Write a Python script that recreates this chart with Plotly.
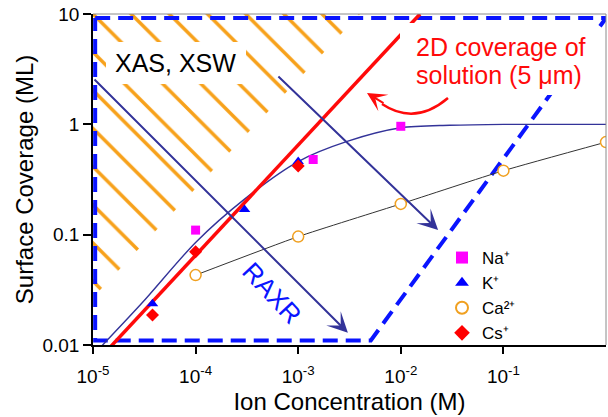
import plotly.graph_objects as go
import math

# ---------------- data ----------------
na_x = [1e-4, 1.4e-3, 1e-2]
na_y = [0.11, 0.48, 0.96]
k_x = [3.8e-5, 3e-4, 1e-3]
k_y = [0.0236, 0.169, 0.46]
ca_x = [1e-4, 1e-3, 1e-2, 1e-1, 1.0]
ca_y = [0.043, 0.096, 0.19, 0.38, 0.69]
cs_x = [3.8e-5, 1e-4, 1e-3]
cs_y = [0.0187, 0.07, 0.42]

series_names = ["Na\u207a", "K\u207a", "Ca\u00b2\u207a", "Cs\u207a"]

# monovalent fit curve
fit_x = [1.09e-5, 3e-5, 1e-4, 3e-4, 1e-3, 3e-3, 1e-2, 3e-2, 1e-1, 1.0]
fit_y = [0.0088, 0.024, 0.085, 0.21, 0.46, 0.70, 0.93, 0.98, 1.0, 1.0]

# 2D coverage of solution line
sol_x = [1.4e-5, 0.0154]
sol_y = [0.0091, 10.0]

# RAXR window (dashed polygon)
raxr_x = [1.05e-5, 1.0, 5.1e-3, 1.05e-5, 1.05e-5]
raxr_y = [9.2, 9.2, 0.011, 0.011, 9.2]

# XAS/XSW hatched region
hatch_x = [1e-5, 1e-5, 4.0e-3, 1e-5]
hatch_y = [0.027, 10.0, 10.0, 0.027]

# arrows: (tail, tip) in data units
raxr_arrow = [(1e-5, 2.63), (3.05e-3, 0.0129)]
xas_arrow = [(6.2e-4, 2.8), (0.0231, 0.110)]

x_tickvals = [1e-5, 1e-4, 1e-3, 1e-2, 1e-1]
x_ticktext = ["10<sup>-5</sup>", "10<sup>-4</sup>", "10<sup>-3</sup>",
              "10<sup>-2</sup>", "10<sup>-1</sup>"]
y_tickvals = [0.01, 0.1, 1, 10]
y_ticktext = ["0.01", "0.1", "1", "10"]

FONT = "Liberation Sans, Arial, Helvetica, sans-serif"
NAVY = "#333399"
BLUE = "#0a14ff"
RED = "#ff0a0a"
ORANGE = "#f7a11a"

fig = go.Figure()

fig.add_trace(go.Scatter(
    x=hatch_x, y=hatch_y, mode="lines", fill="toself",
    fillcolor=ORANGE, line=dict(width=0), showlegend=False, hoverinfo="skip",
    fillpattern=dict(shape="\\", fgcolor=ORANGE, bgcolor="rgba(0,0,0,0)",
                     size=27, solidity=0.13, fillmode="replace")))

fig.add_trace(go.Scatter(
    x=raxr_x, y=raxr_y, mode="lines", showlegend=False, hoverinfo="skip",
    line=dict(color=BLUE, width=4, dash="15px,8px")))

fig.add_trace(go.Scatter(
    x=fit_x, y=fit_y, mode="lines", showlegend=False, hoverinfo="skip",
    line=dict(color=NAVY, width=1.4, shape="spline", smoothing=0.8)))

fig.add_trace(go.Scatter(
    x=ca_x, y=ca_y, mode="lines", showlegend=False, hoverinfo="skip",
    line=dict(color="#333333", width=1, shape="spline", smoothing=0.5)))

fig.add_trace(go.Scatter(
    x=sol_x, y=sol_y, mode="lines", showlegend=False, hoverinfo="skip",
    line=dict(color=RED, width=3.5)))

fig.add_trace(go.Scatter(
    x=na_x, y=na_y, mode="markers", name=series_names[0],
    marker=dict(symbol="square", size=9, color="#ff00ff")))
fig.add_trace(go.Scatter(
    x=k_x, y=k_y, mode="markers", name=series_names[1],
    marker=dict(symbol="triangle-up", size=10, color="#0000ff")))
fig.add_trace(go.Scatter(
    x=ca_x, y=ca_y, mode="markers", name=series_names[2],
    marker=dict(symbol="circle", size=11, color="white",
                line=dict(color="#f0a020", width=1.5))))
fig.add_trace(go.Scatter(
    x=cs_x, y=cs_y, mode="markers", name=series_names[3],
    marker=dict(symbol="diamond", size=10, color="#ff0000")))

# plot area geometry (px) for paper-coord helpers
L, R, T, B = 93, 2, 14, 72
W, H = 608, 417
PW, PH = W - L - R, H - T - B


def px(x):
    return (x - L) / PW


def py(y):
    return (H - B - y) / PH


annotations = []
for (tail, tip) in (raxr_arrow, xas_arrow):
    annotations.append(dict(
        x=math.log10(tip[0]), y=math.log10(tip[1]), xref="x", yref="y",
        ax=math.log10(tail[0]), ay=math.log10(tail[1]), axref="x", ayref="y",
        text="", showarrow=True, arrowhead=3, arrowsize=1.7, arrowwidth=2,
        arrowcolor=NAVY))

# texts
annotations.append(dict(
    x=px(175), y=py(63), xref="paper", yref="paper", text="XAS, XSW",
    xanchor="center", yanchor="middle",
    showarrow=False, font=dict(family=FONT, size=25, color="black")))
annotations.append(dict(
    x=px(414), y=py(47), xref="paper", yref="paper", xanchor="left",
    yanchor="middle", text="2D coverage of", showarrow=False,
    font=dict(family=FONT, size=25, color=RED)))
annotations.append(dict(
    x=px(414), y=py(75), xref="paper", yref="paper", xanchor="left",
    yanchor="middle", text="solution (5 \u03bcm)", showarrow=False,
    font=dict(family=FONT, size=25, color=RED)))
annotations.append(dict(
    x=px(272), y=py(293), xref="paper", yref="paper", text="RAXR",
    xanchor="center", yanchor="middle",
    textangle=47, showarrow=False,
    font=dict(family=FONT, size=26, color=BLUE)))
# red curved arrow head
annotations.append(dict(
    x=px(367), y=py(93), xref="paper", yref="paper",
    ax=18, ay=11, text="", showarrow=True, arrowhead=3, arrowsize=1.6,
    arrowwidth=2, arrowcolor=RED))


def rect_white(x0, y0, x1, y1):
    return dict(type="rect", xref="paper", yref="paper", layer="above",
                x0=px(x0), x1=px(x1), y0=py(y1), y1=py(y0),
                fillcolor="white", line=dict(width=0))


shapes = [
    rect_white(106, 42, 246, 84),
    rect_white(400, 23, 598, 95),
    dict(type="line", xref="paper", yref="paper", x0=0, x1=1, y0=1, y1=1,
         line=dict(color="#8a8a8a", width=1)),
    dict(type="line", xref="paper", yref="paper", x0=1, x1=1, y0=0, y1=1,
         line=dict(color="#8a8a8a", width=1)),
    dict(type="path", xref="paper", yref="paper",
         path="M{},{} Q{},{} {},{}".format(px(448), py(98), px(415), py(126),
                                          px(382), py(104)),
         line=dict(color=RED, width=2.5)),
]

fig.update_layout(
    width=W, height=H, margin=dict(l=L, r=R, t=T, b=B, autoexpand=False),
    paper_bgcolor="white", plot_bgcolor="white",
    font=dict(family=FONT, size=19, color="black"),
    showlegend=True,
    legend=dict(x=px(442), y=py(240), xanchor="left", yanchor="top",
                bgcolor="rgba(0,0,0,0)", font=dict(size=17),
                tracegroupgap=0, itemsizing="constant"),
    annotations=annotations, shapes=shapes,
    xaxis=dict(type="log", range=[-5, 0], showgrid=False, zeroline=False,
               showline=True, linecolor="black", linewidth=1.5,
               ticks="outside", ticklen=7, tickcolor="black", tickwidth=1.5,
               tickvals=x_tickvals, ticktext=x_ticktext, automargin=False,
               tickfont=dict(size=19), ticklabelstandoff=6,
               title=dict(text="Ion Concentration (M)", font=dict(size=24),
                          standoff=8)),
    yaxis=dict(type="log", range=[-2, 1], showgrid=False, zeroline=False,
               showline=True, linecolor="black", linewidth=1.5,
               ticks="outside", ticklen=8, tickcolor="black", tickwidth=1.5,
               tickvals=y_tickvals, ticktext=y_ticktext, automargin=False,
               tickfont=dict(size=19),
               title=dict(text="Surface Coverage (ML)", font=dict(size=24),
                          standoff=2)),
)

fig.write_html("out.html", config={"displayModeBar": False},
               post_script="document.body.style.margin='0px';")
